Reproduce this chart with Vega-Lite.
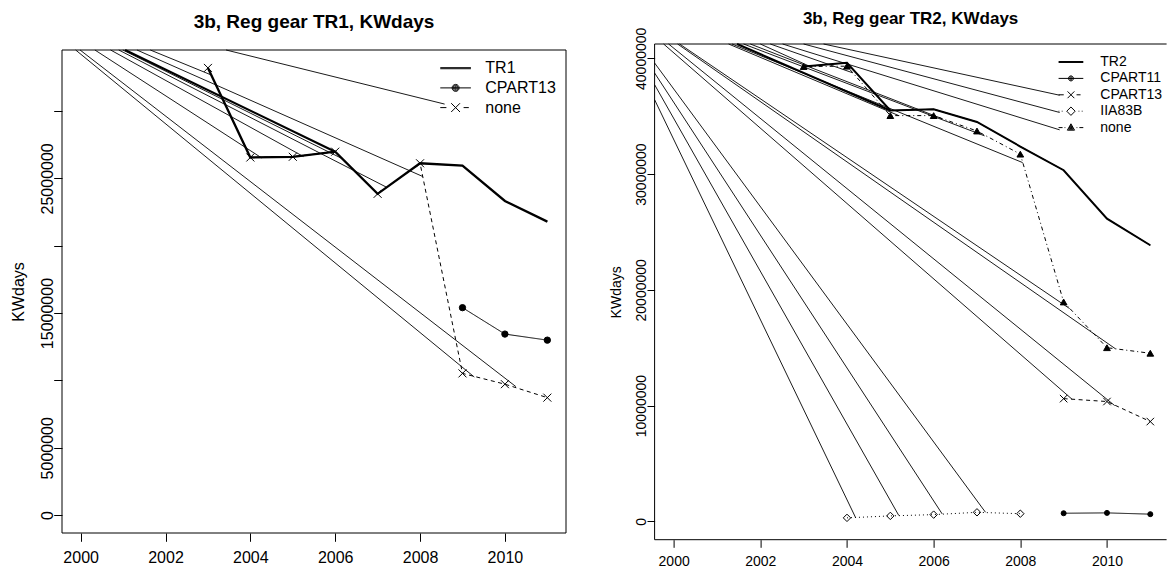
{
  "$schema": "https://vega.github.io/schema/vega-lite/v6.json",
  "usermeta": {"embedOptions": {"actions": false}},
  "background": "white",
  "padding": {"left": 10, "top": 9, "right": 0, "bottom": 0},
  "bounds": "flush",
  "spacing": 88.6,
  "resolve": {
    "scale": {"strokeDash": "independent", "shape": "independent", "fill": "independent", "size": "independent"},
    "legend": {"strokeDash": "independent", "shape": "independent", "fill": "independent", "size": "independent"}
  },
  "config": {
    "font": "Liberation Sans",
    "axis": {"labelFont": "Liberation Sans", "titleFont": "Liberation Sans", "labelColor": "black", "titleColor": "black", "tickColor": "black", "tickWidth": 1, "grid": false, "domain": false, "labelFlush": false, "labelOverlap": false, "titleFontWeight": "normal"},
    "legend": {"labelFont": "Liberation Sans", "labelColor": "black"},
    "title": {"font": "Liberation Sans", "color": "black", "fontWeight": "bold"}
  },
  "datasets": {
    "left": [
      {"s": "TR1", "year": 2003, "v": 33200000},
      {"s": "TR1", "year": 2004, "v": 26550000},
      {"s": "TR1", "year": 2005, "v": 26600000},
      {"s": "TR1", "year": 2006, "v": 26980000},
      {"s": "TR1", "year": 2007, "v": 23850000},
      {"s": "TR1", "year": 2008, "v": 26120000},
      {"s": "TR1", "year": 2009, "v": 25940000},
      {"s": "TR1", "year": 2010, "v": 23320000},
      {"s": "TR1", "year": 2011, "v": 21790000},
      {"s": "CPART13", "year": 2009, "v": 15400000},
      {"s": "CPART13", "year": 2010, "v": 13440000},
      {"s": "CPART13", "year": 2011, "v": 12990000},
      {"s": "none", "year": 2003, "v": 33200000},
      {"s": "none", "year": 2004, "v": 26550000},
      {"s": "none", "year": 2005, "v": 26600000},
      {"s": "none", "year": 2006, "v": 26980000},
      {"s": "none", "year": 2007, "v": 23850000},
      {"s": "none", "year": 2008, "v": 26120000},
      {"s": "none", "year": 2009, "v": 10520000},
      {"s": "none", "year": 2010, "v": 9720000},
      {"s": "none", "year": 2011, "v": 8720000}
    ],
    "leftArt": [
      {"x0": 1999.882, "y0": 34528000, "x1": 2009.278, "y1": 10252000, "kind": "thin"},
      {"x0": 1999.986, "y0": 34528000, "x1": 2010.259, "y1": 9539000, "kind": "thin"},
      {"x0": 2000.336, "y0": 34528000, "x1": 2004.266, "y1": 26516000, "kind": "thin"},
      {"x0": 2000.706, "y0": 34528000, "x1": 2005.254, "y1": 26612000, "kind": "thin"},
      {"x0": 2000.995, "y0": 34528000, "x1": 2006.141, "y1": 26501000, "kind": "thin"},
      {"x0": 2000.899, "y0": 34528000, "x1": 2007.207, "y1": 24346000, "kind": "thin"},
      {"x0": 2001.047, "y0": 34528000, "x1": 2006.0, "y1": 26980000, "kind": "thick"},
      {"x0": 2001.327, "y0": 34528000, "x1": 2008.061, "y1": 25141000, "kind": "thin"},
      {"x0": 2003.428, "y0": 34528000, "x1": 2008.579, "y1": 30513000, "kind": "thin"},
      {"x0": 2001.642, "y0": 34528000, "x1": 2003.085, "y1": 32667000, "kind": "thin"}
    ],
    "right": [
      {"s": "TR2", "year": 2003, "v": 39290000},
      {"s": "TR2", "year": 2004, "v": 39620000},
      {"s": "TR2", "year": 2005, "v": 35490000},
      {"s": "TR2", "year": 2006, "v": 35600000},
      {"s": "TR2", "year": 2007, "v": 34500000},
      {"s": "TR2", "year": 2008, "v": 32380000},
      {"s": "TR2", "year": 2009, "v": 30330000},
      {"s": "TR2", "year": 2010, "v": 26150000},
      {"s": "TR2", "year": 2011, "v": 23850000},
      {"s": "CPART11", "year": 2009, "v": 700000},
      {"s": "CPART11", "year": 2010, "v": 730000},
      {"s": "CPART11", "year": 2011, "v": 620000},
      {"s": "CPART13", "year": 2009, "v": 10600000},
      {"s": "CPART13", "year": 2010, "v": 10350000},
      {"s": "CPART13", "year": 2011, "v": 8620000},
      {"s": "IIA83B", "year": 2004, "v": 300000},
      {"s": "IIA83B", "year": 2005, "v": 470000},
      {"s": "IIA83B", "year": 2006, "v": 580000},
      {"s": "IIA83B", "year": 2007, "v": 780000},
      {"s": "IIA83B", "year": 2008, "v": 660000},
      {"s": "none", "year": 2003, "v": 39290000},
      {"s": "none", "year": 2004, "v": 39320000},
      {"s": "none", "year": 2005, "v": 35050000},
      {"s": "none", "year": 2006, "v": 35050000},
      {"s": "none", "year": 2007, "v": 33720000},
      {"s": "none", "year": 2008, "v": 31720000},
      {"s": "none", "year": 2009, "v": 18950000},
      {"s": "none", "year": 2010, "v": 15000000},
      {"s": "none", "year": 2011, "v": 14520000}
    ],
    "rightArt": [
      {"x0": 2002.0, "y0": 41236000, "x1": 2003.196, "y1": 39210000, "kind": "thin"},
      {"x0": 2002.23, "y0": 41236000, "x1": 2004.129, "y1": 38750000, "kind": "thin"},
      {"x0": 2001.268, "y0": 41236000, "x1": 2005.195, "y1": 35050000, "kind": "thin"},
      {"x0": 2001.769, "y0": 41236000, "x1": 2006.185, "y1": 34800000, "kind": "thin"},
      {"x0": 2001.614, "y0": 41236000, "x1": 2007.175, "y1": 33300000, "kind": "thin"},
      {"x0": 2001.346, "y0": 41236000, "x1": 2008.054, "y1": 30990000, "kind": "thin"},
      {"x0": 2000.137, "y0": 41236000, "x1": 2009.137, "y1": 18380000, "kind": "thin"},
      {"x0": 2000.091, "y0": 41236000, "x1": 2010.194, "y1": 14910000, "kind": "thin"},
      {"x0": 1999.768, "y0": 41236000, "x1": 2009.197, "y1": 10540000, "kind": "thin"},
      {"x0": 1999.883, "y0": 41236000, "x1": 2010.178, "y1": 10000000, "kind": "thin"},
      {"x0": 1999.56, "y0": 36424000, "x1": 2004.196, "y1": 345000, "kind": "thin"},
      {"x0": 1999.56, "y0": 37720000, "x1": 2005.195, "y1": 510000, "kind": "thin"},
      {"x0": 1999.56, "y0": 38731000, "x1": 2006.197, "y1": 640000, "kind": "thin"},
      {"x0": 1999.56, "y0": 39594000, "x1": 2007.196, "y1": 786000, "kind": "thin"},
      {"x0": 2001.462, "y0": 41236000, "x1": 2005.0, "y1": 35490000, "kind": "thick"},
      {"x0": 2003.46, "y0": 41236000, "x1": 2008.908, "y1": 36810000, "kind": "thin"},
      {"x0": 2002.999, "y0": 41236000, "x1": 2008.908, "y1": 35320000, "kind": "thin"},
      {"x0": 2002.514, "y0": 41236000, "x1": 2008.908, "y1": 33820000, "kind": "thin"}
    ]
  },
  "hconcat": [
    {
      "width": 504,
      "height": 489,
      "view": {"stroke": null},
      "title": {"text": "3b, Reg gear TR1, KWdays", "fontSize": 19, "anchor": "middle", "frame": "group", "offset": -3.4, "baseline": "alphabetic"},
      "resolve": {"scale": {"shape": "independent", "fill": "independent", "size": "independent"}, "legend": {"shape": "independent"}},
      "layer": [
        {
          "data": {"values": [{}]},
          "mark": {"type": "rect", "filled": false, "color": "black", "stroke": "black", "strokeWidth": 1},
          "encoding": {
            "x": {"datum": 1999.56, "type": "quantitative", "title": null,
              "scale": {"domain": [1999.56, 2011.44], "nice": false, "zero": false},
              "axis": {"values": [2000, 2002, 2004, 2006, 2008, 2010], "format": "d", "tickSize": 8.3, "labelFontSize": 16, "labelBaseline": "alphabetic", "labelPadding": 21.5}},
            "x2": {"datum": 2011.44},
            "y": {"datum": -1328000, "type": "quantitative", "title": "KWdays",
              "scale": {"domain": [-1328000, 34974000], "nice": false, "zero": false},
              "axis": {"values": [0, 5000000, 10000000, 15000000, 20000000, 25000000, 30000000], "format": "d",
                "labelExpr": "datum.value == 10000000 || datum.value == 20000000 || datum.value == 30000000 ? '' : datum.label",
                "tickSize": 8.3, "labelFontSize": 16, "labelAngle": 270, "labelAlign": "center", "labelBaseline": "alphabetic", "labelPadding": 1.7,
                "titleFontSize": 16, "titleAngle": 270, "titleAlign": "center", "titleBaseline": "alphabetic", "titleX": -38.7, "titleY": 247.5}},
            "y2": {"datum": 34528000}
          }
        },
        {
          "data": {"name": "leftArt"},
          "transform": [{"filter": "datum.kind == 'thin'"}],
          "mark": {"type": "rule", "color": "black", "strokeWidth": 0.9},
          "encoding": {
            "x": {"field": "x0", "type": "quantitative", "title": null},
            "y": {"field": "y0", "type": "quantitative", "title": "KWdays"},
            "x2": {"field": "x1"},
            "y2": {"field": "y1"}
          }
        },
        {
          "data": {"name": "leftArt"},
          "transform": [{"filter": "datum.kind == 'thick'"}],
          "mark": {"type": "rule", "color": "black", "strokeWidth": 2.2},
          "encoding": {
            "x": {"field": "x0", "type": "quantitative", "title": null},
            "y": {"field": "y0", "type": "quantitative", "title": "KWdays"},
            "x2": {"field": "x1"},
            "y2": {"field": "y1"}
          }
        },
        {
          "data": {"name": "left"},
          "mark": {"type": "line", "color": "black", "strokeWidth": 1},
          "encoding": {
            "x": {"field": "year", "type": "quantitative", "title": null},
            "y": {"field": "v", "type": "quantitative", "title": "KWdays"},
            "strokeDash": {"field": "s", "type": "nominal",
              "scale": {"domain": ["TR1", "CPART13", "none"], "range": [[1, 0], [1, 0], [4, 3.5]]},
              "legend": null}
          }
        },
        {
          "data": {"name": "left"},
          "transform": [{"filter": "datum.s == 'TR1'"}],
          "mark": {"type": "line", "color": "black", "strokeWidth": 2.3},
          "encoding": {
            "x": {"field": "year", "type": "quantitative", "title": null},
            "y": {"field": "v", "type": "quantitative", "title": "KWdays"}
          }
        },
        {
          "data": {"name": "left"},
          "transform": [{"filter": "datum.s != 'TR1'"}],
          "mark": {"type": "point", "filled": false, "color": "black", "strokeWidth": 1, "opacity": 1},
          "encoding": {
            "x": {"field": "year", "type": "quantitative", "title": null},
            "y": {"field": "v", "type": "quantitative", "title": "KWdays"},
            "shape": {"field": "s", "type": "nominal", "scale": {"domain": ["CPART13", "none"], "range": ["circle", "M-1,-1L1,1M-1,1L1,-1"]}, "legend": null},
            "fill": {"field": "s", "type": "nominal", "scale": {"domain": ["CPART13", "none"], "range": ["black", "transparent"]}, "legend": null},
            "size": {"field": "s", "type": "nominal", "scale": {"type": "ordinal", "domain": ["CPART13", "none"], "range": [40, 64]}, "legend": null}
          }
        },
        {
          "data": {"name": "left"},
          "transform": [{"filter": "false"}],
          "mark": {"type": "point", "filled": false, "color": "black", "strokeWidth": 1, "opacity": 1, "size": 64},
          "encoding": {
            "x": {"field": "year", "type": "quantitative", "title": null},
            "y": {"field": "v", "type": "quantitative", "title": "KWdays"},
            "shape": {"field": "s", "type": "nominal", "title": null,
              "scale": {"domain": ["TR1", "CPART13", "none"], "range": [
                "M-3.83,-0.13H3.83M-3.83,0.13H3.83",
                "M-3.83,0H3.83M0.875,0A0.875,0.875,0,1,1,-0.875,0A0.875,0.875,0,1,1,0.875,0M0.625,0A0.625,0.625,0,1,1,-0.625,0A0.625,0.625,0,1,1,0.625,0M0.375,0A0.375,0.375,0,1,1,-0.375,0A0.375,0.375,0,1,1,0.375,0M0.125,0A0.125,0.125,0,1,1,-0.125,0A0.125,0.125,0,1,1,0.125,0",
                "M-3.83,0H-2.3M-1.1,-1.1L1.1,1.1M-1.1,1.1L1.1,-1.1M2,0H3.3"]},
              "legend": {"orient": "none", "legendX": 385.6, "legendY": 16.2, "title": null, "padding": 0,
                "labelFontSize": 16, "labelOffset": 21.7, "rowPadding": 3.7, "symbolSize": 64, "symbolStrokeWidth": 1,
                "symbolStrokeColor": "black", "symbolFillColor": "transparent", "symbolOpacity": 1, "labelBaseline": "middle"}}
          }
        }
      ]
    },
    {
      "width": 512,
      "height": 495.7,
      "view": {"stroke": null},
      "title": {"text": "3b, Reg gear TR2, KWdays", "fontSize": 17, "anchor": "middle", "frame": "group", "offset": -13.8, "baseline": "alphabetic"},
      "resolve": {"scale": {"shape": "independent", "fill": "independent", "size": "independent"}, "legend": {"shape": "independent"}},
      "layer": [
        {
          "data": {"values": [{}]},
          "mark": {"type": "rule", "color": "black", "strokeWidth": 1},
          "encoding": {
            "x": {"datum": 1999.56, "type": "quantitative", "title": null,
              "scale": {"domain": [1999.56, 2011.376], "nice": false, "zero": false},
              "axis": {"values": [2000, 2002, 2004, 2006, 2008, 2010], "format": "d", "tickSize": 7.6, "labelFontSize": 14, "labelBaseline": "alphabetic", "labelPadding": 18.2}},
            "y": {"datum": -1586000, "type": "quantitative", "title": "KWdays",
              "scale": {"domain": [-1586000, 41236000], "nice": false, "zero": false},
              "axis": {"values": [0, 10000000, 20000000, 30000000, 40000000], "format": "d",
                "tickSize": 7.6, "labelFontSize": 14, "labelAngle": 270, "labelAlign": "center", "labelBaseline": "alphabetic", "labelPadding": 1.5,
                "titleFontSize": 14, "titleAngle": 270, "titleAlign": "center", "titleBaseline": "alphabetic", "titleX": -34.3, "titleY": 247.85}},
            "y2": {"datum": 41236000}
          }
        },
        {
          "data": {"values": [{}]},
          "mark": {"type": "rule", "color": "black", "strokeWidth": 1},
          "encoding": {
            "x": {"datum": 1999.56, "type": "quantitative", "title": null},
            "x2": {"datum": 2011.376},
            "y": {"datum": 41236000, "type": "quantitative", "title": "KWdays"}
          }
        },
        {
          "data": {"values": [{}]},
          "mark": {"type": "rule", "color": "black", "strokeWidth": 1},
          "encoding": {
            "x": {"datum": 1999.56, "type": "quantitative", "title": null},
            "x2": {"datum": 2011.376},
            "y": {"datum": -1586000, "type": "quantitative", "title": "KWdays"}
          }
        },
        {
          "data": {"name": "rightArt"},
          "transform": [{"filter": "datum.kind == 'thin'"}],
          "mark": {"type": "rule", "color": "black", "strokeWidth": 0.9},
          "encoding": {
            "x": {"field": "x0", "type": "quantitative", "title": null},
            "y": {"field": "y0", "type": "quantitative", "title": "KWdays"},
            "x2": {"field": "x1"},
            "y2": {"field": "y1"}
          }
        },
        {
          "data": {"name": "rightArt"},
          "transform": [{"filter": "datum.kind == 'thick'"}],
          "mark": {"type": "rule", "color": "black", "strokeWidth": 2},
          "encoding": {
            "x": {"field": "x0", "type": "quantitative", "title": null},
            "y": {"field": "y0", "type": "quantitative", "title": "KWdays"},
            "x2": {"field": "x1"},
            "y2": {"field": "y1"}
          }
        },
        {
          "data": {"name": "right"},
          "mark": {"type": "line", "color": "black", "strokeWidth": 1},
          "encoding": {
            "x": {"field": "year", "type": "quantitative", "title": null},
            "y": {"field": "v", "type": "quantitative", "title": "KWdays"},
            "strokeDash": {"field": "s", "type": "nominal",
              "scale": {"domain": ["TR2", "CPART11", "CPART13", "IIA83B", "none"], "range": [[1, 0], [1, 0], [4, 3.5], [1, 3], [1, 3, 4, 3]]},
              "legend": null}
          }
        },
        {
          "data": {"name": "right"},
          "transform": [{"filter": "datum.s == 'TR2'"}],
          "mark": {"type": "line", "color": "black", "strokeWidth": 2},
          "encoding": {
            "x": {"field": "year", "type": "quantitative", "title": null},
            "y": {"field": "v", "type": "quantitative", "title": "KWdays"}
          }
        },
        {
          "data": {"name": "right"},
          "transform": [{"filter": "datum.s != 'TR2'"}],
          "mark": {"type": "point", "filled": false, "color": "black", "strokeWidth": 1, "opacity": 1},
          "encoding": {
            "x": {"field": "year", "type": "quantitative", "title": null},
            "y": {"field": "v", "type": "quantitative", "title": "KWdays"},
            "shape": {"field": "s", "type": "nominal", "scale": {"domain": ["CPART11", "CPART13", "IIA83B", "none"], "range": ["circle", "M-1,-1L1,1M-1,1L1,-1", "diamond", "triangle-up"]}, "legend": null},
            "fill": {"field": "s", "type": "nominal", "scale": {"domain": ["CPART11", "CPART13", "IIA83B", "none"], "range": ["black", "transparent", "transparent", "black"]}, "legend": null},
            "size": {"field": "s", "type": "nominal", "scale": {"type": "ordinal", "domain": ["CPART11", "CPART13", "IIA83B", "none"], "range": [25, 56, 55, 45]}, "legend": null}
          }
        },
        {
          "data": {"name": "right"},
          "transform": [{"filter": "false"}],
          "mark": {"type": "point", "filled": false, "color": "black", "strokeWidth": 1, "opacity": 1, "size": 64},
          "encoding": {
            "x": {"field": "year", "type": "quantitative", "title": null},
            "y": {"field": "v", "type": "quantitative", "title": "KWdays"},
            "shape": {"field": "s", "type": "nominal", "title": null,
              "scale": {"domain": ["TR2", "CPART11", "CPART13", "IIA83B", "none"], "range": [
                "M-3.09,-0.12H3.09M-3.09,0.12H3.09",
                "M-3.09,0H3.09M0.625,0A0.625,0.625,0,1,1,-0.625,0A0.625,0.625,0,1,1,0.625,0M0.375,0A0.375,0.375,0,1,1,-0.375,0A0.375,0.375,0,1,1,0.375,0M0.125,0A0.125,0.125,0,1,1,-0.125,0A0.125,0.125,0,1,1,0.125,0",
                "M-3.09,0H-1.8M-0.85,-0.85L0.85,0.85M-0.85,0.85L0.85,-0.85M1.4,0H2.4",
                "M-3.09,0H-2.9M-2.3,0H-2.1M-1.05,0L0,-1.05L1.05,0L0,1.05ZM1.9,0H2.1M2.7,0H2.9",
                "M-3.09,0H-2.1M-1.6,0H-1.4M0,-0.95L0.9,0.65L-0.9,0.65ZM0,-0.62L0.58,0.42L-0.58,0.42ZM0,-0.3L0.28,0.2L-0.28,0.2ZM1.4,0H1.6M2.1,0H3.09"]},
              "legend": {"orient": "none", "legendX": 409.35, "legendY": 11, "title": null, "padding": 0,
                "labelFontSize": 14, "labelOffset": 22.35, "rowPadding": 2.4, "symbolSize": 64, "symbolStrokeWidth": 1,
                "symbolStrokeColor": "black", "symbolFillColor": "transparent", "symbolOpacity": 1, "labelBaseline": "middle"}}
          }
        }
      ]
    }
  ]
}
